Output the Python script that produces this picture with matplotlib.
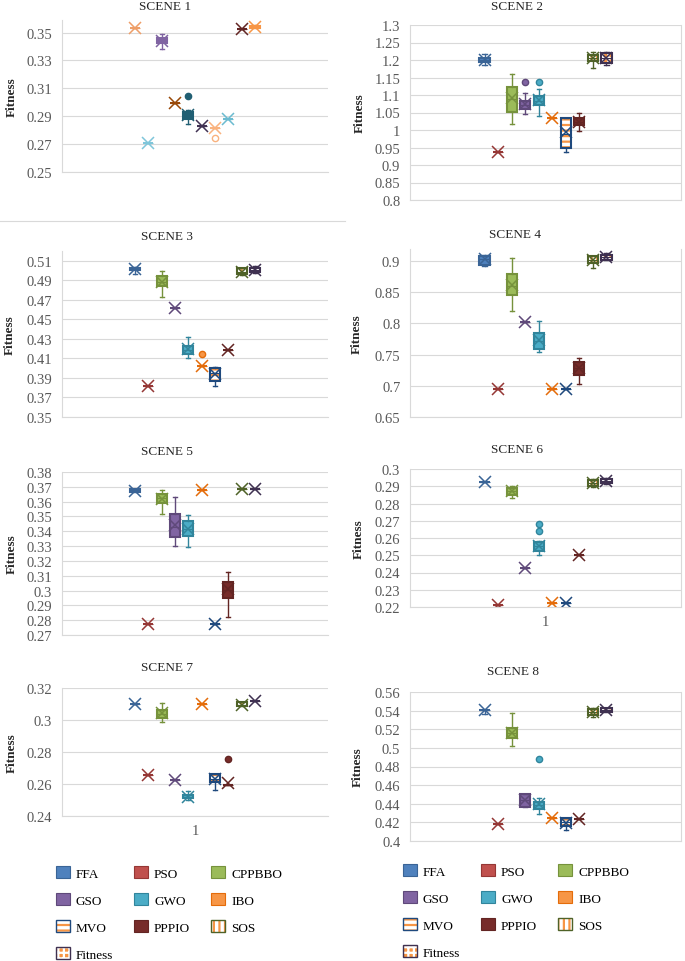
import matplotlib.pyplot as plt
from matplotlib.patches import Patch, Rectangle
from matplotlib.lines import Line2D
import numpy as np

plt.rcParams['font.family'] = ['Liberation Serif', 'DejaVu Serif']
plt.rcParams['hatch.linewidth'] = 1.6

algorithms = ['FFA', 'PSO', 'CPPBBO', 'GSO', 'GWO', 'IBO', 'MVO', 'PPPIO', 'SOS', 'Fitness']
scenes = ['SCENE 1', 'SCENE 2', 'SCENE 3', 'SCENE 4', 'SCENE 5', 'SCENE 6', 'SCENE 7', 'SCENE 8']

# box statistics, one row per scene, one column per algorithm
whisker_lo = [
    [0.353, 0.271, 0.338, 0.2995, 0.2845, 0.283, 0.2815, 0.288, 0.3525, 0.3532],
    [1.186, 0.938, 1.017, 1.046, 1.039, 1.034, 0.938, 0.998, 1.176, 1.186],
    [0.4965, 0.382, 0.4724, 0.4618, 0.41, 0.4027, 0.382, 0.4187, 0.4955, 0.4975],
    [0.891, 0.695, 0.82, 0.8017, 0.7547, 0.695, 0.695, 0.7034, 0.889, 0.9012],
    [0.3665, 0.2774, 0.3518, 0.33, 0.3293, 0.3676, 0.2774, 0.282, 0.3683, 0.3683],
    [0.2923, 0.2212, 0.283, 0.2425, 0.2502, 0.2225, 0.2225, 0.2502, 0.2895, 0.2915],
    [0.31, 0.2655, 0.2989, 0.2626, 0.25, 0.31, 0.2563, 0.2595, 0.3085, 0.3121],
    [0.536, 0.4179, 0.502, 0.4365, 0.4294, 0.4251, 0.4118, 0.424, 0.5332, 0.5389],
]
q1 = [
    [0.353, 0.271, 0.3424, 0.2995, 0.288, 0.283, 0.2815, 0.288, 0.3525, 0.3535],
    [1.193, 0.938, 1.052, 1.06, 1.071, 1.034, 0.948, 1.014, 1.197, 1.191],
    [0.501, 0.382, 0.4844, 0.4618, 0.415, 0.4027, 0.387, 0.4187, 0.4963, 0.498],
    [0.8936, 0.695, 0.845, 0.8017, 0.7584, 0.695, 0.695, 0.717, 0.897, 0.9016],
    [0.3667, 0.2774, 0.359, 0.3358, 0.3367, 0.3676, 0.2774, 0.2948, 0.3683, 0.3683],
    [0.2923, 0.2212, 0.2851, 0.2425, 0.2525, 0.2225, 0.2225, 0.2502, 0.2899, 0.2917],
    [0.31, 0.2655, 0.3012, 0.2626, 0.2511, 0.31, 0.2615, 0.2595, 0.3089, 0.3121],
    [0.5403, 0.4179, 0.511, 0.4365, 0.434, 0.4251, 0.4161, 0.424, 0.535, 0.5389],
]
median = [
    [0.353, 0.271, 0.3445, 0.2995, 0.2905, 0.283, 0.2815, 0.288, 0.3525, 0.354],
    [1.2, 0.938, 1.09, 1.072, 1.082, 1.034, 0.99, 1.024, 1.205, 1.207],
    [0.502, 0.382, 0.488, 0.4618, 0.419, 0.4027, 0.395, 0.4187, 0.499, 0.5005],
    [0.903, 0.695, 0.86, 0.8017, 0.772, 0.695, 0.695, 0.728, 0.902, 0.906],
    [0.3676, 0.2774, 0.3625, 0.343, 0.3415, 0.3676, 0.2774, 0.3005, 0.3683, 0.3683],
    [0.2923, 0.2212, 0.287, 0.2425, 0.2553, 0.2225, 0.2225, 0.2502, 0.2919, 0.2928],
    [0.31, 0.2655, 0.304, 0.2626, 0.252, 0.31, 0.263, 0.2595, 0.3095, 0.3121],
    [0.5403, 0.4179, 0.5165, 0.4444, 0.4385, 0.4251, 0.42, 0.424, 0.5385, 0.541],
]
q3 = [
    [0.353, 0.271, 0.346, 0.2995, 0.293, 0.283, 0.2815, 0.288, 0.3525, 0.355],
    [1.205, 0.938, 1.122, 1.084, 1.096, 1.034, 1.033, 1.034, 1.214, 1.22],
    [0.503, 0.382, 0.4943, 0.4618, 0.4228, 0.4027, 0.4006, 0.4187, 0.5021, 0.5025],
    [0.908, 0.695, 0.8797, 0.8017, 0.7846, 0.695, 0.695, 0.738, 0.907, 0.9096],
    [0.3685, 0.2774, 0.3649, 0.3518, 0.3467, 0.3676, 0.2774, 0.306, 0.3683, 0.3683],
    [0.2923, 0.2212, 0.289, 0.2425, 0.2574, 0.2225, 0.2225, 0.2502, 0.2938, 0.2942],
    [0.31, 0.2655, 0.3064, 0.2626, 0.2532, 0.31, 0.2661, 0.2595, 0.311, 0.3121],
    [0.5403, 0.4179, 0.5217, 0.4508, 0.4422, 0.4251, 0.4243, 0.424, 0.5414, 0.5425],
]
whisker_hi = [
    [0.353, 0.271, 0.349, 0.2995, 0.2945, 0.283, 0.2815, 0.288, 0.3525, 0.3555],
    [1.217, 0.938, 1.16, 1.106, 1.117, 1.034, 1.033, 1.049, 1.224, 1.224],
    [0.5035, 0.382, 0.4997, 0.4618, 0.432, 0.4027, 0.4013, 0.4187, 0.5031, 0.505],
    [0.9096, 0.695, 0.905, 0.8017, 0.8038, 0.695, 0.695, 0.745, 0.908, 0.912],
    [0.3687, 0.2774, 0.3676, 0.3631, 0.3511, 0.3676, 0.2774, 0.3124, 0.3683, 0.3683],
    [0.2923, 0.2212, 0.29, 0.2425, 0.2584, 0.2225, 0.2225, 0.2502, 0.2942, 0.2945],
    [0.31, 0.2655, 0.3106, 0.2626, 0.2557, 0.31, 0.2661, 0.2595, 0.3112, 0.3121],
    [0.5403, 0.4179, 0.5378, 0.4508, 0.4465, 0.4251, 0.4251, 0.424, 0.5432, 0.5425],
]
means = [
    [0.353, 0.271, 0.344, 0.2995, 0.291, 0.283, 0.2815, 0.288, 0.3525, 0.3543],
    [1.2, 0.938, 1.091, 1.075, 1.085, 1.034, 0.993, 1.024, 1.205, 1.207],
    [0.5015, 0.382, 0.4878, 0.4618, 0.4194, 0.4027, 0.3936, 0.4187, 0.499, 0.5003],
    [0.903, 0.695, 0.8615, 0.8017, 0.774, 0.695, 0.695, 0.728, 0.902, 0.906],
    [0.3675, 0.2774, 0.362, 0.3439, 0.3417, 0.3676, 0.2774, 0.3011, 0.3683, 0.3683],
    [0.2923, 0.2212, 0.287, 0.2425, 0.2554, 0.2225, 0.2225, 0.2502, 0.2919, 0.2928],
    [0.31, 0.2655, 0.3041, 0.2626, 0.252, 0.31, 0.263, 0.2605, 0.3095, 0.3121],
    [0.5403, 0.4179, 0.5163, 0.4444, 0.4394, 0.4251, 0.4197, 0.424, 0.5385, 0.541],
]
# (scene, algorithm, value)
outliers = [
    (0, 4, 0.3042), (0, 6, 0.2745),
    (1, 3, 1.136), (1, 4, 1.136),
    (2, 5, 0.4143),
    (5, 4, 0.2642), (5, 4, 0.2684),
    (6, 7, 0.2759),
    (7, 4, 0.4877),
]

y_min = [0.25, 0.8, 0.35, 0.65, 0.27, 0.22, 0.24, 0.40]
y_max = [0.359, 1.3, 0.52, 0.919, 0.38, 0.30, 0.32, 0.56]
y_top_tick = [0.35, 1.3, 0.51, 0.9, 0.38, 0.30, 0.32, 0.56]
y_step = [0.02, 0.05, 0.02, 0.05, 0.01, 0.01, 0.02, 0.02]

# styles
fills = ['#4F81BD', '#C0504D', '#9BBB59', '#8064A2', '#4BACC6', '#F79646',
         'white', '#772C2A', 'white', '#F79646']
edges = ['#3A6496', '#953735', '#76923C', '#5F497A', '#31859C', '#E46C0A',
         '#1F497D', '#632523', '#4F6228', '#3F3151']
hatches = [None, None, None, None, None, None, '---', None, '|||', '+++']
hatch_cols = [None, None, None, None, None, None, '#F79646', None, '#F79646', 'white']
s1_cols = ['#EE9E68', '#7FC6DA', '#8064A2', '#984807', '#215F73',
           '#403152', '#F9B27E', '#6CBBD0', '#632523', '#F79646']

W, H = 685, 962
# axes boxes in pixels: left, top, right, bottom
ax_px = [(62, 21, 328, 173), (410, 26, 681, 201),
         (62, 252, 328, 418), (410, 250, 681, 418),
         (62, 473, 328, 636), (410, 470, 681, 608),
         (62, 689, 328, 817), (410, 693, 681, 842)]
title_px = [(165, 7), (517, 7), (167, 237), (515, 235),
            (167, 452), (517, 450), (167, 668), (513, 672)]
ylab_x = [12, 360, 10, 357, 12, 359, 12, 358]

fig = plt.figure(figsize=(W / 100, H / 100), dpi=100)
fs = 9.5
tfs = 10.5
grey = '#595959'

for s in range(8):
    l, t, r, b = ax_px[s]
    ax = fig.add_axes([l / W, 1 - b / H, (r - l) / W, (b - t) / H])
    for i in range(10):
        if s == 0:
            fc, ec, ht, hc = s1_cols[i], s1_cols[i], None, None
        else:
            fc, ec, ht, hc = fills[i], edges[i], hatches[i], hatch_cols[i]
        fl = [v for (si, ai, v) in outliers if si == s and ai == i]
        st = dict(whislo=whisker_lo[s][i], q1=q1[s][i], med=median[s][i],
                  q3=q3[s][i], whishi=whisker_hi[s][i], mean=means[s][i], fliers=fl)
        flc = 'white' if (s == 0 and i == 6) else (ec if fc == 'white' else fc)
        art = ax.bxp([st], positions=[i], widths=0.75, capwidths=0.3,
                     patch_artist=True, showmeans=True,
                     boxprops=dict(facecolor=fc, edgecolor=ec, linewidth=1.5),
                     whiskerprops=dict(color=ec, linewidth=1.0),
                     capprops=dict(color=ec, linewidth=1.0),
                     medianprops=dict(color=ec, linewidth=0.8),
                     meanprops=dict(marker='x', markeredgecolor=ec, markersize=8.5,
                                    markeredgewidth=1.1),
                     flierprops=dict(marker='o', markerfacecolor=flc, markeredgecolor=ec,
                                     markersize=4.5))
        if ht:
            box = art['boxes'][0]
            box.set_facecolor('#F79646' if i == 9 else 'white')
            box.set_hatch(ht)
            box.set_edgecolor(hc)
            box.set_linewidth(0)
            ax.add_patch(Rectangle((i - 0.375, q1[s][i]), 0.75, q3[s][i] - q1[s][i],
                                   fill=False, edgecolor=ec, linewidth=1.5, zorder=2.5))

    ax.set_xlim(-5.5, 14.5)
    ax.set_ylim(y_min[s], y_max[s])
    ticks = np.arange(y_min[s], y_top_tick[s] + y_step[s] / 2, y_step[s])
    ax.set_yticks(ticks)
    ax.set_yticklabels([f'{round(v, 3):g}' for v in ticks])
    ax.tick_params(axis='y', length=0, pad=7, labelsize=tfs, labelcolor=grey)
    if s in (5, 6):
        ax.set_xticks([4.5])
        ax.set_xticklabels(['1'])
        ax.tick_params(axis='x', length=0, pad=6, labelsize=tfs, labelcolor=grey)
    else:
        ax.set_xticks([])
    ax.yaxis.grid(True, color='#D9D9D9', linewidth=0.8)
    ax.set_axisbelow(True)
    ax.spines['top'].set_visible(False)
    ax.spines['right'].set_visible(s % 2 == 1)
    for sp in ['left', 'bottom', 'right']:
        ax.spines[sp].set_color('#D9D9D9')
        ax.spines[sp].set_linewidth(0.8)

    tx, ty = title_px[s]
    fig.text(tx / W, 1 - ty / H, scenes[s], ha='center', va='center', fontsize=fs, color='#262626')
    fig.text(ylab_x[s] / W, 1 - (t + b) / 2 / H, 'Fitness', rotation=90, ha='center',
             va='center', fontsize=fs, fontweight='bold', color='#262626')

fig.add_artist(Line2D([0, 345 / W], [1 - 222 / H] * 2, color='#D9D9D9', linewidth=0.8))

# legends
handles = []
for i in range(10):
    if hatches[i]:
        base = '#F79646' if i == 9 else 'white'
        handles.append((Patch(facecolor=base, edgecolor=hatch_cols[i], hatch=hatches[i], linewidth=0),
                        Patch(facecolor='none', edgecolor=edges[i], linewidth=1.0)))
    else:
        handles.append(Patch(facecolor=fills[i], edgecolor=edges[i], linewidth=0.8))
order = [0, 3, 6, 9, 1, 4, 7, 2, 5, 8]
for x0, y0 in [(56, 867), (403, 865)]:
    fig.legend([handles[k] for k in order], [algorithms[k] for k in order], ncol=3,
               loc='upper left', bbox_to_anchor=(x0 / W, 1 - y0 / H), frameon=False,
               fontsize=9.5, handlelength=1.05, handleheight=1.05, handletextpad=0.45,
               columnspacing=1.6, labelspacing=1.02, borderpad=0, borderaxespad=0)

fig.savefig('out.png', dpi=100)
